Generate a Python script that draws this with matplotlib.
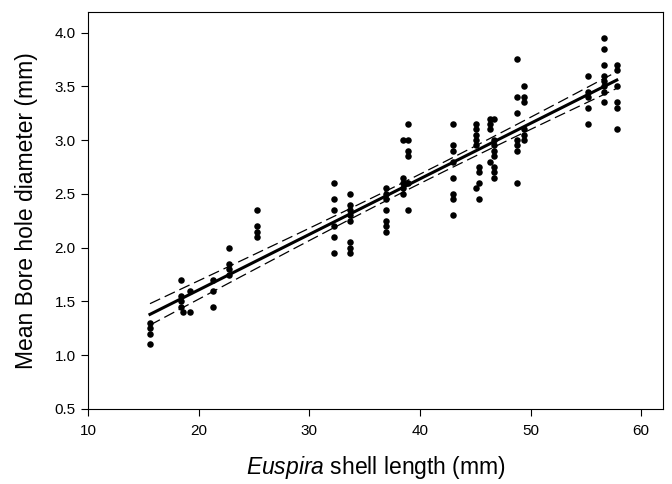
import numpy as np
import matplotlib
matplotlib.use("Agg")
import matplotlib.pyplot as plt

plt.rcParams['font.family'] = ['Liberation Sans', 'DejaVu Sans']
plt.rcParams['mathtext.fontset'] = 'custom'
plt.rcParams['mathtext.it'] = 'Liberation Sans:italic'
plt.rcParams['mathtext.rm'] = 'Liberation Sans'

# shell length groups and the bore hole diameters measured at each
shell_length = [15.6, 18.4, 18.6, 19.2, 21.3, 22.7, 25.3, 32.2, 33.7, 36.9,
                38.5, 38.9, 43.0, 45.1, 45.3, 46.3, 46.7, 48.8, 49.4, 55.2,
                56.6, 57.8]
bore_diam = [
    [1.3, 1.25, 1.2, 1.1],
    [1.7, 1.55, 1.5, 1.45],
    [1.4],
    [1.6, 1.4],
    [1.7, 1.6, 1.45],
    [2.0, 1.85, 1.8, 1.75],
    [2.35, 2.2, 2.15, 2.1],
    [2.6, 2.45, 2.35, 2.2, 2.1, 1.95],
    [2.5, 2.4, 2.35, 2.3, 2.25, 2.05, 2.0, 1.95],
    [2.55, 2.5, 2.45, 2.35, 2.25, 2.2, 2.15],
    [3.0, 2.65, 2.6, 2.55, 2.5],
    [3.15, 3.0, 2.9, 2.85, 2.6, 2.35],
    [3.15, 2.95, 2.9, 2.8, 2.65, 2.5, 2.45, 2.3],
    [3.15, 3.1, 3.05, 3.0, 2.95, 2.55],
    [2.75, 2.7, 2.6, 2.45],
    [3.2, 3.15, 3.1, 2.8],
    [3.2, 3.0, 2.95, 2.9, 2.85, 2.75, 2.7, 2.65],
    [3.75, 3.4, 3.25, 3.0, 2.95, 2.9, 2.6],
    [3.5, 3.4, 3.35, 3.1, 3.05, 3.0],
    [3.6, 3.45, 3.4, 3.3, 3.15],
    [3.95, 3.85, 3.7, 3.6, 3.55, 3.5, 3.45, 3.35],
    [3.7, 3.65, 3.5, 3.35, 3.3, 3.1],
]

x = np.array([sl for sl, ds in zip(shell_length, bore_diam) for _ in ds])
y = np.array([d for ds in bore_diam for d in ds])

# linear regression with 95% confidence band
n = len(x)
slope, intercept = np.polyfit(x, y, 1)
resid = y - (slope * x + intercept)
s = np.sqrt(np.sum(resid ** 2) / (n - 2))
xf = np.linspace(x.min(), x.max(), 200)
yf = slope * xf + intercept
se = s * np.sqrt(1 / n + (xf - x.mean()) ** 2 / np.sum((x - x.mean()) ** 2))
ci = 1.98 * se

fig = plt.figure(figsize=(6.72, 4.84), dpi=100)
ax = fig.add_axes([0.131, 0.155, 0.856, 0.82])

ax.scatter(x, y, s=22, color='black', zorder=3, linewidths=0)
ax.plot(xf, yf, color='black', lw=2.2)
ax.plot(xf, yf + ci, color='black', lw=0.9, dashes=(9, 4))
ax.plot(xf, yf - ci, color='black', lw=0.9, dashes=(9, 4))

ax.set_xlim(10, 62)
ax.set_ylim(0.5, 4.19)
ax.set_xticks([10, 20, 30, 40, 50, 60])
ax.set_yticks([0.5, 1.0, 1.5, 2.0, 2.5, 3.0, 3.5, 4.0])
ax.set_yticklabels(['0.5', '1.0', '1.5', '2.0', '2.5', '3.0', '3.5', '4.0'])
ax.tick_params(direction='out', length=5, labelsize=11, top=False, right=False)
ax.tick_params(axis='x', pad=6)
ax.tick_params(axis='y', pad=4)
for sp in ax.spines.values():
    sp.set_linewidth(0.8)

ax.set_xlabel(r'$\it{Euspira}$ shell length (mm)', fontsize=16.5, labelpad=11)
ax.set_ylabel('Mean Bore hole diameter (mm)', fontsize=16.5, labelpad=12)

fig.savefig('out.png', dpi=100)
